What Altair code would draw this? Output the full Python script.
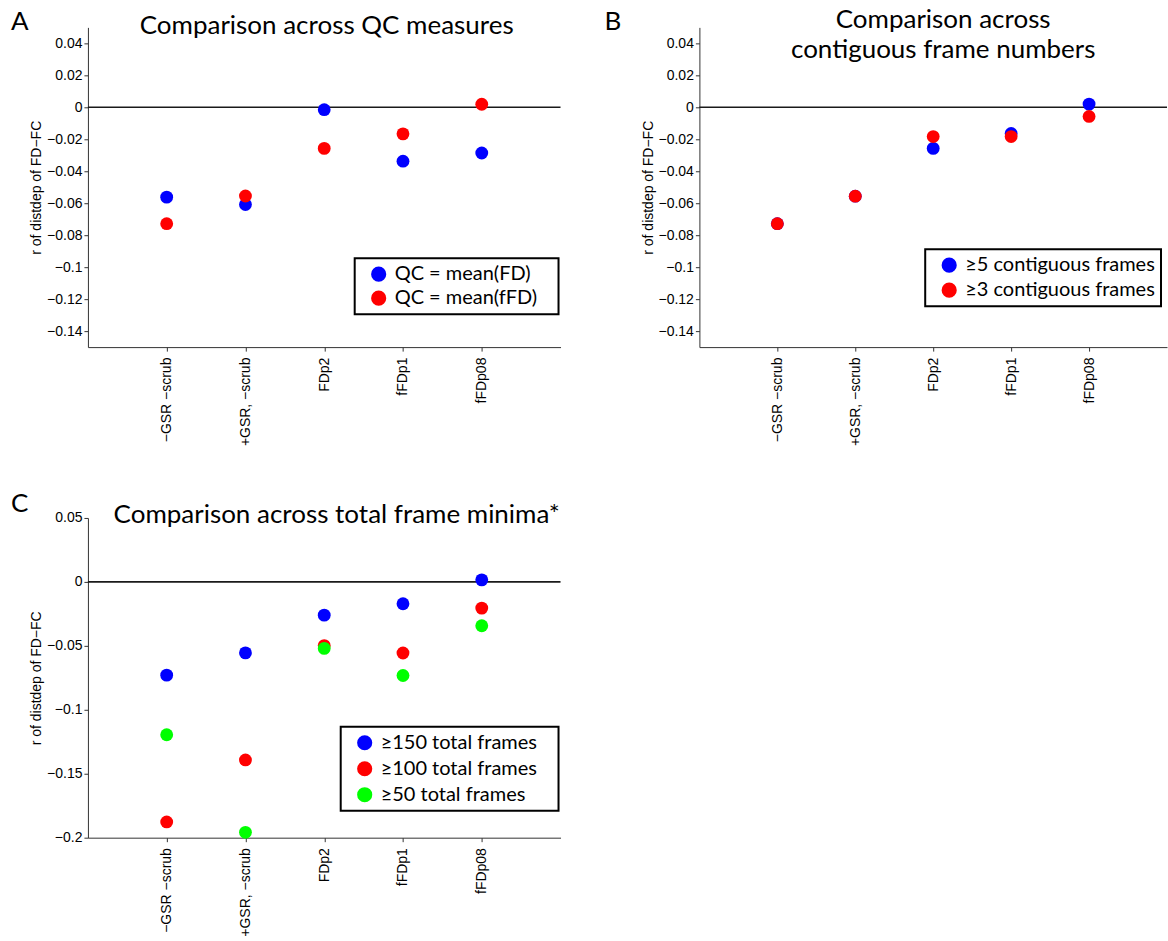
import altair as alt
import pandas as pd

# ---------------- data ----------------
categories = ["\u2212GSR \u2212scrub", "+GSR, \u2212scrub", "FDp2", "fFDp1", "fFDp08"]
positions = [1, 2, 3, 4, 5]

a_labels = ["QC = mean(FD)", "QC = mean(fFD)"]
a_fd = [-0.0562, -0.0608, -0.0015, -0.0337, -0.0286]
a_ffd = [-0.0728, -0.0555, -0.0257, -0.0166, 0.0019]

b_labels = ["\u22655 contiguous frames", "\u22653 contiguous frames"]
b_5 = [-0.0728, -0.0556, -0.0257, -0.0164, 0.0020]
b_3 = [-0.0728, -0.0556, -0.0183, -0.0183, -0.0057]

c_labels = ["\u2265150 total frames", "\u2265100 total frames", "\u226550 total frames"]
c_150 = [-0.0729, -0.0555, -0.0260, -0.0171, 0.0016]
c_100 = [-0.1877, -0.1392, -0.0498, -0.0556, -0.0205]
c_50 = [-0.1195, -0.1958, -0.0520, -0.0732, -0.0343]

ab_ticks = [0.04, 0.02, 0, -0.02, -0.04, -0.06, -0.08, -0.1, -0.12, -0.14]
c_ticks = [0.05, 0, -0.05, -0.1, -0.15, -0.2]

a_title = ["Comparison across QC measures"]
b_title = ["Comparison across", "contiguous frame numbers"]
c_title = ["Comparison across total frame minima*"]

colors = ["#0000ff", "#ff0000", "#00ff00"]

# ---------------- style ----------------
TITLE_FONT = "Lato"
AX_FONT = "Liberation Sans"
W1, W2, H = 473, 468, 320

label_expr = "[" + ",".join("'" + c + "'" for c in categories) + "][datum.value - 1]"


def panel(series, labels, ydomain, yticks, width, title_lines, title_xy,
          letter, letter_xy, legend_xy, row_pad, n_pad):
    rows = []
    for lab, vals in zip(labels, series):
        for p, v in zip(positions, vals):
            rows.append({"pos": p, "val": v, "series": lab})
    df = pd.DataFrame(rows)

    xscale = alt.Scale(domain=[0, 6], nice=False, zero=False)
    xaxis = alt.Axis(
        values=positions, labelExpr=label_expr, labelAngle=270,
        labelFont=AX_FONT, labelFontSize=14, labelColor="black",
        labelPadding=6, tickSize=4, tickColor="#333", domainColor="#333",
        grid=False, title=None, labelOverlap=False, labelBound=False,
        labelFlush=False,
    )
    yscale = alt.Scale(domain=ydomain, nice=False, zero=False)
    yaxis = alt.Axis(
        values=yticks, format="~g", labelFont=AX_FONT, labelFontSize=14,
        labelColor="black", labelPadding=2, tickSize=4, tickColor="#333",
        domainColor="#333", grid=False, title="r of distdep of FD\u2212FC",
        titleFont=AX_FONT, titleFontSize=14, titleFontWeight="normal",
        titleColor="black", titlePadding=3, labelFlush=False,
        labelOverlap=False, labelBound=False,
    )
    lab_expr = "datum.label + '" + "\u2800" * n_pad + "'"

    zero = alt.Chart(pd.DataFrame({"k": [0]})).mark_rule(
        color="#1a1a1a", strokeWidth=1.6
    ).encode(y=alt.YDatum(0, type="quantitative", scale=yscale, axis=yaxis))

    pts = alt.Chart(df).mark_circle(size=165, opacity=1).encode(
        x=alt.X("pos:Q", scale=xscale, axis=xaxis),
        y=alt.Y("val:Q", scale=yscale, axis=yaxis),
        color=alt.Color(
            "series:N",
            scale=alt.Scale(domain=labels, range=colors[: len(labels)]),
            legend=alt.Legend(
                orient="none", legendX=legend_xy[0], legendY=legend_xy[1],
                title=None, symbolType="circle", symbolSize=230,
                symbolStrokeWidth=0, symbolOpacity=1,
                labelFont=TITLE_FONT, labelFontSize=20, labelColor="black",
                labelOffset=6, symbolOffset=8, padding=6, labelLimit=400,
                rowPadding=row_pad, strokeColor="black", fillColor="white",
                labelExpr=lab_expr,
            ),
        ),
        order=alt.Order("ord:Q"),
    ).transform_calculate(ord="indexof(" + str(labels) + ", datum.series)")

    ttl = alt.Chart(pd.DataFrame({"k": [0]})).mark_text(
        text=title_lines if len(title_lines) > 1 else title_lines[0],
        font=TITLE_FONT, fontSize=26, color="black", align="center",
        baseline="alphabetic", lineHeight=30,
    ).encode(x=alt.value(title_xy[0]), y=alt.value(title_xy[1]))

    let = alt.Chart(pd.DataFrame({"k": [0]})).mark_text(
        text=letter, font=TITLE_FONT, fontSize=26, color="black",
        align="left", baseline="alphabetic",
    ).encode(x=alt.value(letter_xy[0]), y=alt.value(letter_xy[1]))

    return alt.layer(zero, pts, ttl, let).properties(width=width, height=H)


A = panel([a_fd, a_ffd], a_labels, [-0.15, 0.05], ab_ticks, W1, a_title,
          (239, 7), "A", (-77, 3), (267, 231), 4, 1)
B = panel([b_5, b_3], b_labels, [-0.15, 0.05], ab_ticks, W2, b_title,
          (244, 1), "B", (-95, 3), (226, 222), 5, 0)
C = panel([c_150, c_100, c_50], c_labels, [-0.2, 0.05], c_ticks, W1, c_title,
          (249, 5), "C", (-77, -6), (253, 209), 6, 1)

chart = alt.concat(
    A, B, C, columns=2, spacing={"row": 171, "column": 139}, bounds="flush"
).resolve_scale(color="independent").resolve_legend(color="independent").properties(
    padding={"left": 11, "top": 7, "right": 0, "bottom": 0}
).configure_view(stroke=None).configure_legend(strokeWidth=2).configure_axis(
    labelFont=AX_FONT, labelFontSize=14, labelColor="black"
)

chart.save("out.html", embed_options={"renderer": "svg", "actions": False})
